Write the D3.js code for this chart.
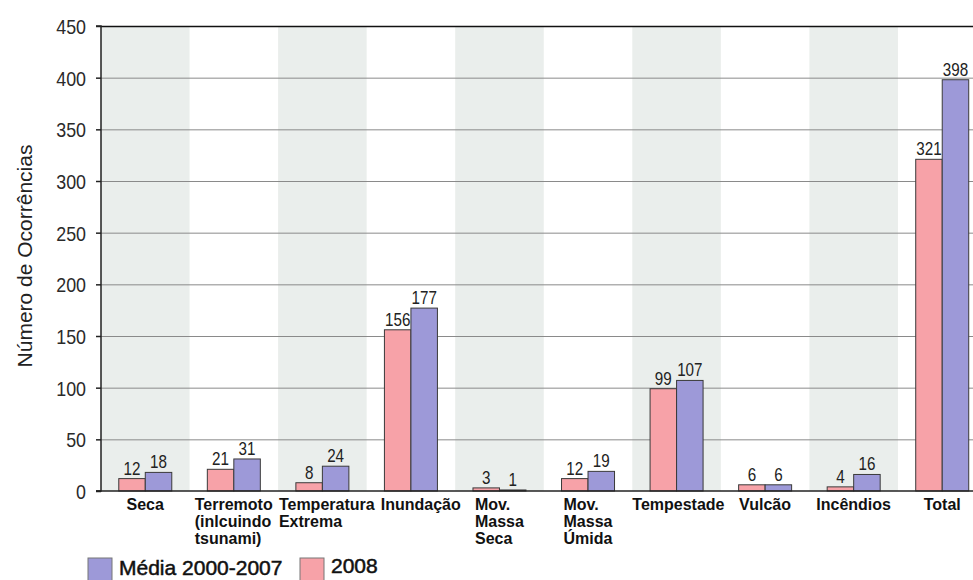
<!DOCTYPE html>
<html><head><meta charset="utf-8">
<script src="https://cdn.jsdelivr.net/npm/d3@7"></script>
<style>body{margin:0;background:#fff}svg{display:block}</style>
</head><body>
<svg id="c" width="973" height="580"></svg>
<script>
const categories = [
  ["Seca"],
  ["Terremoto","(inlcuindo","tsunami)"],
  ["Temperatura","Extrema"],
  ["Inundação"],
  ["Mov.","Massa","Seca"],
  ["Mov.","Massa","Úmida"],
  ["Tempestade"],
  ["Vulcão"],
  ["Incêndios"],
  ["Total"]
];
const catKeys = categories.map(c => c.join(" "));
const values2008  = [12, 21, 8, 156, 3, 12, 99, 6, 4, 321];
const valuesMedia = [18, 31, 24, 177, 1, 19, 107, 6, 16, 398];
const seriesNames = ["2008", "Média 2000-2007"];
const yTicks = [0, 50, 100, 150, 200, 250, 300, 350, 400, 450];
const yTitle = "Número de Ocorrências";

const colors = {"2008": "#F7A2A8", "Média 2000-2007": "#9D99D8"};
const sans = "'Liberation Sans',Arial,sans-serif";

const svg = d3.select("#c");
const pLeft = 101, pRight = 986.5, pTop = 26, pBottom = 491;

// condense text horizontally (narrow font look)
function condense(sel, f) {
  sel.each(function() {
    const len = this.getComputedTextLength();
    d3.select(this).attr("textLength", len * f).attr("lengthAdjust", "spacingAndGlyphs");
  });
}

const x = d3.scaleBand().domain(catKeys).range([pLeft, pRight]).padding(0);
const y = d3.scaleLinear().domain([0, 450]).range([pBottom, pTop]);
const barW = 26.5;
const x1 = d3.scaleBand().domain(seriesNames).range([-barW, barW]).padding(0);

// stripes
svg.append("g").selectAll("rect").data(catKeys.filter((d,i)=>i%2===0)).join("rect")
  .attr("x", d => x(d)).attr("y", pTop).attr("width", x.bandwidth()).attr("height", pBottom-pTop)
  .attr("fill", "#EAEEEC");

// gridlines
svg.append("g").selectAll("line").data(yTicks.filter(t=>t>0)).join("line")
  .attr("x1", pLeft).attr("x2", 973).attr("y1", d=>y(d)+0.5).attr("y2", d=>y(d)+0.5)
  .attr("stroke", d => d===450 ? "#111" : "#8a8a8a").attr("stroke-width", d => d===450 ? 1.5 : 1);

// bars
const rows = catKeys.map((k,i) => ({k, vals: [{s:"2008", v: values2008[i]}, {s:"Média 2000-2007", v: valuesMedia[i]}]}));
const g = svg.append("g").selectAll("g").data(rows).join("g")
  .attr("transform", d => `translate(${x(d.k)+x.bandwidth()/2},0)`);
g.selectAll("rect").data(d=>d.vals).join("rect")
  .attr("x", d => x1(d.s)).attr("width", x1.bandwidth())
  .attr("y", d => y(d.v)).attr("height", d => pBottom - y(d.v))
  .attr("fill", d => colors[d.s]).attr("stroke", "#3a3a3a").attr("stroke-width", 1);
const vl = g.selectAll("text").data(d=>d.vals).join("text")
  .attr("x", d => x1(d.s) + x1.bandwidth()/2).attr("y", d => y(d.v) - 4)
  .attr("text-anchor", "middle").attr("font-family", sans).attr("font-size", 19).attr("fill", "#222")
  .text(d => d.v);
condense(vl, 0.8);

// axes
const yAxis = d3.axisLeft(y).tickValues(yTicks).tickSize(5).tickPadding(10);
const ya = svg.append("g").attr("transform", `translate(${pLeft},0)`).call(yAxis);
ya.select(".domain").attr("stroke", "#222").attr("stroke-width", 1.5).attr("d", `M-5,${pTop}H0V${pBottom}H-5`);
ya.selectAll(".tick line").attr("stroke", "#222").attr("stroke-width", 1.5);
const tt = ya.selectAll(".tick text").attr("font-family", sans).attr("font-size", 21).attr("fill", "#2a2a2a").attr("dy", "0.36em");
condense(tt, 0.85);

svg.append("line").attr("x1", pLeft-5).attr("x2", 973).attr("y1", pBottom).attr("y2", pBottom)
  .attr("stroke", "#222").attr("stroke-width", 1.5);

// y title
svg.append("text").attr("transform", `translate(32,256) rotate(-90)`).attr("text-anchor", "middle")
  .attr("font-family", sans).attr("font-size", 21).attr("fill", "#222").text(yTitle);

// category labels: centred in band, not left of band, pushed right to avoid overlap
let prevRight = -Infinity;
categories.forEach((lines, i) => {
  const t = svg.append("text").attr("font-family", sans).attr("font-weight", "bold")
    .attr("font-size", 16).attr("fill", "#111");
  lines.forEach((ln, j) => t.append("tspan").attr("x", 0).attr("y", 510 + j*17).text(ln));
  const w = t.node().getBBox().width;
  const cx = x(catKeys[i]) + x.bandwidth()/2;
  const lx = Math.max(cx - w/2, x(catKeys[i]), prevRight + 6);
  prevRight = lx + w;
  t.attr("transform", `translate(${lx},0)`);
});

// legend
const legend = [{s:"Média 2000-2007", x:88, tx:119}, {s:"2008", x:300, tx:331}];
legend.forEach(l => {
  svg.append("rect").attr("x", l.x).attr("y", 558).attr("width", 24).attr("height", 24)
    .attr("fill", colors[l.s]).attr("stroke", "#777").attr("stroke-width", 1);
  svg.append("text").attr("x", l.tx).attr("y", l.s==="2008" ? 573 : 575).attr("font-family", sans)
    .attr("font-size", 21).attr("fill", "#111").attr("stroke", "#111").attr("stroke-width", 0.5).text(l.s);
});
</script>
</body></html>
